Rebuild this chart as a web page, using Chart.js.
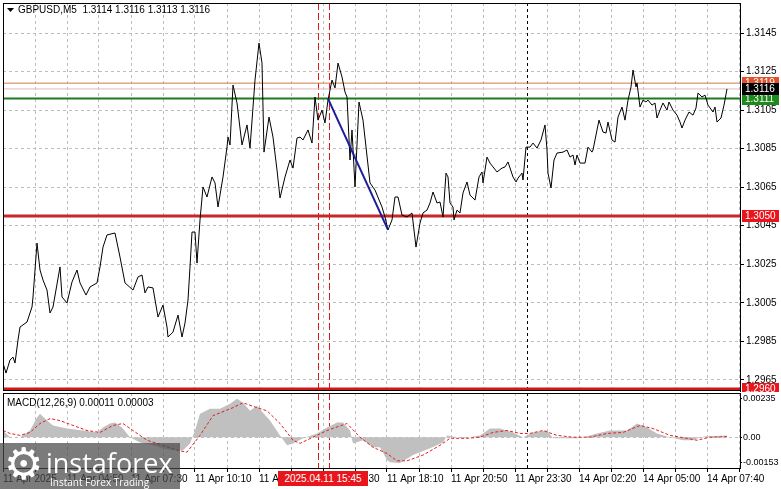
<!DOCTYPE html>
<html><head><meta charset="utf-8">
<script src="https://cdn.jsdelivr.net/npm/chart.js@4.4.1/dist/chart.umd.min.js"></script>
<style>
html,body{margin:0;padding:0;background:#fff;}
#wrap{position:relative;width:781px;height:489px;overflow:hidden;background:#fff;}
#c1{position:absolute;left:0;top:0;}
#c2{position:absolute;left:0;top:392px;}
#datebox{position:absolute;left:278px;top:471px;width:90px;height:15px;background:#e8161c;color:#fff;
 font:10px "Liberation Sans",Arial,sans-serif;line-height:15px;text-align:center;}
#wm{position:absolute;left:0;top:443px;width:180px;height:46px;background:rgba(72,72,72,0.72);color:#fff;}
#wm .gear{position:absolute;left:4px;top:-5px;font:44px "DejaVu Sans",sans-serif;}
#wm .big{position:absolute;left:46px;top:1px;font:27px "Open Sans",sans-serif;}
#wm .small{position:absolute;left:50px;top:32px;font:10px "Open Sans",sans-serif;}
</style></head>
<body><div id="wrap">
<canvas id="c1" width="781" height="392"></canvas>
<canvas id="c2" width="781" height="97"></canvas>
<div id="datebox">2025.04.11 15:45</div>
<div id="wm"><span class="gear">⚙</span><span class="big">instaforex</span><span class="small">Instant Forex Trading</span></div>
</div>
<script>
// ---- data (bar index of M5 chart, price) ----
const barTimes = [
 0,1.5,3.5,5,6,7.5,8.5,10,12,14.5,
 15,17,18.5,20,22,23.5,25,28.5,29.5,32,
 34.5,37,38.5,41.5,43.5,47,48.5,50,52,56,
 58.5,61,65,67.5,69.5,71,72.5,75,77.5,80,
 82,82.5,85,87.5,89.5,91,92.5,93.5,94.5,96,
 97,98.5,100,102,104.5,106,107.5,110,112,112.5,
 113.5,115,117,119.5,122,123.5,126,128,129.5,130.5,
 133,135,137,138.5,141,143.5,145,147,148.5,150,
 152.5,154.5,156,157.5,159.5,161,162.5,164.5,166,167.5,
 169.5,171,172,173.5,174.5,176,178,180,183.5,186,
 189.5,191,192.5,194.5,196,197.5,199.5,202,204.5,206.5,
 208.5,210,212,213.5,215,217,218.5,220,221.5,222.5,
 223.5,225,225.5,227,228.5,230,232,233.5,236,238,
 239.5,240,242,243.5,247,249.5,251,252.5,255,256.5,
 257.5,259.5,260,261.5,263.5,265,267,269,271,272,
 272.5,274,275.5,277,280,282,283.5,285,286,287,
 288.5,291,292.5,294.5,295,297,298,300,301.5,302.5,
 304.5,306,307.5,309.5,311,312.5,314,315,316.5,317,
 318.5,320,321.5,322.5,324.5,326,327,328.5,330,332,
 333,335,337,338.5,339.5,341,343,345,346.5,347.5,
 349.5,351,352.5,355,356,357,359,360.5,362];
const closePrices = [
 1.29737,1.29685,1.29753,1.29768,1.29737,1.29857,1.29924,1.29935,1.2995,1.30028,
 1.3008,1.3036,1.3022,1.30168,1.30116,1.29997,1.30028,1.30236,1.3008,1.30049,
 1.30158,1.3022,1.30153,1.3009,1.30132,1.30153,1.30236,1.30339,1.30402,1.30412,
 1.30287,1.30153,1.30116,1.30184,1.30194,1.30101,1.30132,1.30127,1.29976,1.30038,
 1.29924,1.29872,1.29898,1.29986,1.29872,1.29945,1.30064,1.30236,1.30417,1.30417,
 1.30256,1.3048,1.30651,1.30599,1.30703,1.30672,1.30547,1.30703,1.30858,1.3091,
 1.30869,1.3118,1.31087,1.30869,1.30973,1.30853,1.31206,1.31398,1.31294,1.30832,
 1.31014,1.3091,1.30739,1.30594,1.30703,1.30791,1.30749,1.30905,1.3091,1.30895,
 1.30947,1.30879,1.31118,1.30998,1.3105,1.30983,1.31102,1.31206,1.31165,1.31294,
 1.31222,1.31144,1.31118,1.30791,1.30947,1.30651,1.31092,1.30998,1.30672,1.30635,
 1.30547,1.30495,1.30428,1.3048,1.30599,1.30599,1.30505,1.30495,1.30516,1.30339,
 1.30464,1.30516,1.30531,1.30568,1.30625,1.30568,1.30573,1.30495,1.30723,1.30703,
 1.30568,1.30547,1.3048,1.30531,1.30516,1.3062,1.30677,1.30609,1.30583,1.30703,
 1.30729,1.30672,1.30806,1.30775,1.30729,1.30749,1.30755,1.30781,1.30703,1.30677,
 1.30697,1.30723,1.30687,1.30858,1.30858,1.30879,1.30853,1.30895,1.30973,1.30843,
 1.30723,1.30646,1.30791,1.30827,1.30832,1.30843,1.30806,1.30817,1.30765,1.30817,
 1.30775,1.30775,1.30858,1.30832,1.30843,1.30947,1.30998,1.30936,1.30931,1.30988,
 1.30895,1.30884,1.31014,1.31066,1.30998,1.31102,1.3117,1.31258,1.3117,1.31191,
 1.31066,1.31102,1.31092,1.31102,1.31076,1.31087,1.31009,1.3105,1.31087,1.3105,
 1.31092,1.3105,1.31024,1.30988,1.30957,1.30998,1.3104,1.31024,1.31061,1.31139,
 1.31118,1.31128,1.31076,1.3104,1.31066,1.30988,1.31009,1.31076,1.3116];

const histTimes = [
 0,3.5,8.5,13.5,17,18.5,22,25,32,40,
 47,50,53.5,56,59.5,63.5,68.5,75,80,85,
 90,93.5,96,98.5,103.5,108.5,113.5,117,120,123.5,
 127,130,133.5,138.5,142,145,150,157,162,167,
 170,173.5,175,180,185,188.5,192,193.5,198.5,205,
 213.5,220,222,230,238.5,243.5,248.5,255,260,265,
 272,275,288.5,297,303.5,312,317,322,327,333.5,
 340,345,348.5,352,362];
const macdHist = [
 0.00041,0,0,0.00041,0.0012,0.00144,0.00102,0.00072,0.00053,0.00041,
 0.00029,0.00059,0.00084,0.0009,0.00059,0,-0.00032,-0.0005,-0.00068,-0.0008,
 -0.0008,-0.00038,0.00041,0.00144,0.00175,0.00175,0.00205,0.00235,0.00211,0.00162,
 0.00193,0.0015,0.00102,0.00011,-0.0005,-0.00038,-0.00007,0.00023,0.00059,0.0009,
 0.0009,0.00041,-0.00038,-0.00019,-0.00062,-0.00062,-0.0014,-0.00153,-0.00159,-0.0011,
 -0.00068,-0.00032,0.00011,-0.00007,0.00011,0.00053,0.00053,0.00029,0,0.00029,
 0.00041,-0.00007,-0.00007,0.00023,0.00041,0.00041,0.00084,0.00059,0.00023,0,
 -0.00019,-0.00019,0,0.00005,0.00011];

const signalTimes = [
 0,3.5,8.5,13.5,18.5,23.5,28.5,35,42,48.5,
 55,60,65,72,80,87,92,98.5,105,115,
 120,127,132,138.5,145,148.5,155,162,172,178.5,
 185,192,197,202,210,218.5,223.5,232,238.5,245,
 252,258.5,263.5,270,277,285,293.5,302,310,318.5,
 325,333.5,342,347,353.5,362];
const macdSignal = [
 0.00041,0.00023,0.00011,0.00029,0.00084,0.00114,0.00102,0.00072,0.00041,0.00029,
 0.00072,0.00084,0.00041,-0.00019,-0.0005,-0.0008,-0.00092,0.00011,0.00132,0.00181,
 0.00211,0.00181,0.00162,0.00084,-0.00019,-0.00038,0,0.00041,0.00084,0,
 -0.00062,-0.001,-0.00145,-0.00145,-0.0011,-0.0005,-0.00007,-0.00007,0,0.00029,
 0.00041,0.00023,0.00023,0.00041,0.00011,0,0,0.00023,0.00029,0.00072,
 0.00053,0.00011,-0.00007,-0.00019,0,0.00003];

const trendTimes = [162.5, 192.5];
const trendPrices = [1.3111, 1.30428];

const levelPrices = [1.3119, 1.3116, 1.3111, 1.3050, 1.2960];
const levelColors = ['#d47a45', '#d8bcc8', '#1f7a1f', '#c8262a', '#d01818'];
const levelWidths = [1, 1, 2, 3, 4];

const boxPrices = [1.3119, 1.3111, 1.3116, 1.3050, 1.2960];
const boxColors = ['#e0502a', '#1e8a1e', '#000000', '#e8161c', '#e8161c'];

const markerTimes = [157.5, 163];
const daySeparatorTimes = [262];

const priceTicks = [1.2965,1.2985,1.3005,1.3025,1.3045,1.3065,1.3085,1.3105,1.3125,1.3145];
const macdTicks = [-0.00153, 0, 0.00235];
const macdTickLabels = ['-0.00153', '0.00', '0.00235'];
const gridTimes = [0,16,32,48,64,80,96,112,128,144,160,176,192,208,224,240,256,272,288,304,320,336,352,368];
const timeLabels = {0:'11 Apr 2025',32:'11 Apr 04:50',64:'11 Apr 07:30',96:'11 Apr 10:10',128:'11 Apr 12:50',
 160:'11 Apr 15:30',192:'11 Apr 18:10',224:'11 Apr 20:50',256:'11 Apr 23:30',288:'14 Apr 02:20',320:'14 Apr 05:00',352:'14 Apr 07:40'};
const titleText = 'GBPUSD,M5  1.3114 1.3116 1.3113 1.3116';
const macdTitle = 'MACD(12,26,9) 0.00011 0.00003';

// ---- rendering ----
const FAM = '"Liberation Sans",Arial,sans-serif';
Chart.defaults.font.family = FAM;
Chart.defaults.font.size = 10;
Chart.defaults.color = '#000';
const X_MIN = 0, X_MAX = 368.5;
const pts = (ts, vs) => ts.map((t, i) => ({x: t, y: vs[i]}));
const noPad = s => { s.paddingTop = 0; s.paddingBottom = 0; s.paddingLeft = 0; s.paddingRight = 0; };

function xScale(showLabels, h) {
  return {
    type: 'linear', min: X_MIN, max: X_MAX,
    afterBuildTicks: s => { s.ticks = gridTimes.map(v => ({value: v})); },
    afterFit: s => { s.height = h; noPad(s); },
    grid: {color: '#bdbdbd', lineWidth: 1, drawTicks: showLabels, tickLength: 4, tickColor: '#000', tickBorderDash: []},
    border: {display: showLabels, color: '#000', width: 1, dash: [3, 3]},
    ticks: {display: showLabels, autoSkip: false, maxRotation: 0, minRotation: 0, align: 'start', padding: 1,
      color: '#000', font: {family: FAM, size: 10}, callback: v => (timeLabels[v] !== undefined ? timeLabels[v] : '')}
  };
}

function vLines(chart) {
  const {ctx, chartArea: a, scales: {x}} = chart;
  ctx.save();
  ctx.lineWidth = 1;
  ctx.strokeStyle = '#e01818'; ctx.setLineDash([7, 3]);
  markerTimes.forEach(t => { const px = Math.round(x.getPixelForValue(t)) + 0.5;
    ctx.beginPath(); ctx.moveTo(px, a.top); ctx.lineTo(px, a.bottom); ctx.stroke(); });
  ctx.strokeStyle = '#000'; ctx.setLineDash([3, 3]);
  daySeparatorTimes.forEach(t => { const px = Math.round(x.getPixelForValue(t)) + 0.5;
    ctx.beginPath(); ctx.moveTo(px, a.top); ctx.lineTo(px, a.bottom); ctx.stroke(); });
  ctx.restore();
}

const mainPlugin = {
  id: 'mainPlugin',
  beforeDatasetsDraw(chart) { vLines(chart); },
  afterDraw(chart) {
    const {ctx, chartArea: a, scales: {y}} = chart;
    ctx.save();
    ctx.setLineDash([]);
    ctx.strokeStyle = '#000'; ctx.lineWidth = 1;
    ctx.strokeRect(a.left + 0.5, a.top + 0.5, a.right - a.left, a.bottom - a.top - 1);
    // title
    ctx.fillStyle = '#000';
    ctx.beginPath(); ctx.moveTo(7, 8); ctx.lineTo(14, 8); ctx.lineTo(10.5, 12); ctx.closePath(); ctx.fill();
    ctx.font = '10px ' + FAM; ctx.textBaseline = 'middle'; ctx.textAlign = 'left';
    ctx.fillText(titleText, 18, 10);
    // price boxes
    boxPrices.forEach((p, i) => {
      const py = Math.round(y.getPixelForValue(p));
      ctx.fillStyle = boxColors[i];
      ctx.fillRect(a.right + 2, py - 6, 37, 12);
      ctx.fillStyle = '#fff';
      ctx.fillText(p.toFixed(4), a.right + 5, py + 0.5);
    });
    ctx.restore();
  }
};

const macdPlugin = {
  id: 'macdPlugin',
  beforeDatasetsDraw(chart) {
    vLines(chart);
    const {ctx, chartArea: a, scales: {y}} = chart;
    const zy = Math.round(y.getPixelForValue(0)) + 0.5;
    ctx.save(); ctx.strokeStyle = '#bdbdbd'; ctx.setLineDash([3, 3]);
    ctx.beginPath(); ctx.moveTo(a.left, zy); ctx.lineTo(a.right, zy); ctx.stroke(); ctx.restore();
  },
  afterDraw(chart) {
    const {ctx, chartArea: a} = chart;
    ctx.save();
    ctx.setLineDash([]);
    ctx.strokeStyle = '#000'; ctx.lineWidth = 1;
    ctx.strokeRect(a.left + 0.5, a.top + 0.5, a.right - a.left, a.bottom - a.top);
    ctx.fillStyle = '#000'; ctx.font = '10px ' + FAM; ctx.textBaseline = 'middle';
    ctx.fillText(macdTitle, 7, 11);
    ctx.restore();
  }
};

new Chart(document.getElementById('c1'), {
  type: 'line',
  data: {datasets: [
    {data: pts(trendTimes, trendPrices), borderColor: '#1c1c9c', borderWidth: 2, pointRadius: 0, tension: 0},
    {data: pts(barTimes, closePrices), borderColor: '#000', borderWidth: 1, pointRadius: 0, tension: 0},
    ...levelPrices.map((p, i) => ({data: [{x: X_MIN, y: p}, {x: X_MAX, y: p}], borderColor: levelColors[i],
      borderWidth: levelWidths[i], pointRadius: 0, tension: 0}))
  ]},
  options: {
    responsive: false, animation: false, devicePixelRatio: 1, events: [],
    layout: {padding: {left: 3, top: 3, right: 0, bottom: 1}},
    plugins: {legend: {display: false}, tooltip: {enabled: false}},
    scales: {
      x: xScale(false, 0),
      y: {position: 'right', min: 1.29592, max: 1.31606,
        afterBuildTicks: s => { s.ticks = priceTicks.map(v => ({value: v})); },
        afterFit: s => { s.width = 41; noPad(s); },
        grid: {color: '#bdbdbd', tickLength: 4, tickColor: '#000', tickBorderDash: []},
        border: {color: '#000', dash: [3, 3]},
        ticks: {padding: 2, color: '#000', font: {family: FAM, size: 10}, callback: v => Number(v).toFixed(4)}
      }
    }
  },
  plugins: [mainPlugin]
});

new Chart(document.getElementById('c2'), {
  type: 'line',
  data: {datasets: [
    {data: pts(signalTimes, macdSignal), borderColor: '#e02020', borderWidth: 1, borderDash: [3, 2], pointRadius: 0, tension: 0},
    {data: pts(histTimes, macdHist), borderWidth: 0, borderColor: 'rgba(0,0,0,0)', backgroundColor: '#c0c0c0', fill: 'origin', pointRadius: 0, tension: 0}
  ]},
  options: {
    responsive: false, animation: false, devicePixelRatio: 1, events: [],
    layout: {padding: {left: 3, top: 1, right: 0, bottom: 0}},
    plugins: {legend: {display: false}, tooltip: {enabled: false}},
    scales: {
      x: xScale(true, 21),
      y: {position: 'right', min: -0.00189, max: 0.00271,
        afterBuildTicks: s => { s.ticks = macdTicks.map(v => ({value: v})); },
        afterFit: s => { s.width = 41; noPad(s); },
        grid: {drawOnChartArea: false, tickLength: 2, tickColor: '#000'},
        border: {color: '#000'},
        ticks: {padding: 1, color: '#000', font: {family: FAM, size: 9},
          callback: (v, i) => macdTickLabels[i]}
      }
    }
  },
  plugins: [macdPlugin]
});
</script>
</body></html>
